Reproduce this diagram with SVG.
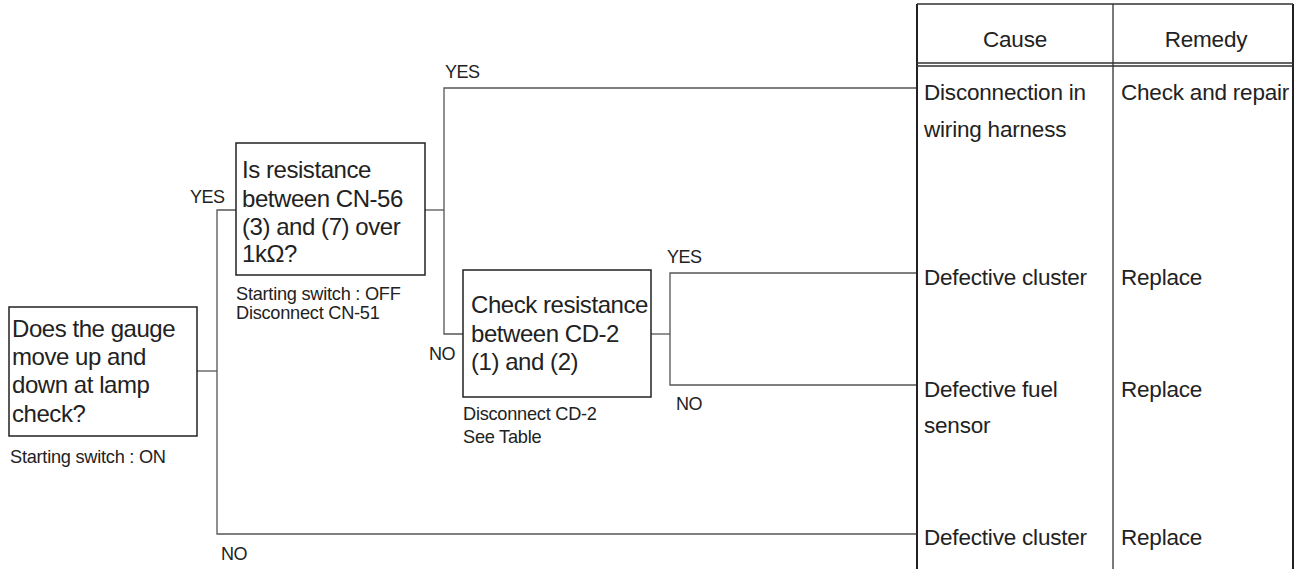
<svg xmlns="http://www.w3.org/2000/svg" width="1306" height="569" viewBox="0 0 1306 569">
<style>
.box{fill:#fff;stroke:#222;stroke-width:1.5}
.ln{fill:none;stroke:#555;stroke-width:1.3}
.tb{fill:none;stroke:#333;stroke-width:1.3}
.tbb{fill:none;stroke:#222;stroke-width:2}
.big{font-family:"Liberation Sans",Arial,sans-serif;font-size:24px;fill:#222;letter-spacing:-0.45px}
.tt{font-family:"Liberation Sans",Arial,sans-serif;font-size:22.5px;fill:#222;letter-spacing:-0.2px}
.sm{font-family:"Liberation Sans",Arial,sans-serif;font-size:18.2px;fill:#222;letter-spacing:-0.25px}
.lb{font-family:"Liberation Sans",Arial,sans-serif;font-size:18px;fill:#222;letter-spacing:-0.5px}
</style>
<rect width="1306" height="569" fill="#fff"/>
<g id="connectors">
<path class="ln" d="M197,371 H217"/>
<path class="ln" d="M236,210 H217 V534 H917"/>
<path class="ln" d="M425,210 H444"/>
<path class="ln" d="M917,88 H444 V334 H463"/>
<path class="ln" d="M651,334 H670"/>
<path class="ln" d="M917,273 H670 V385 H917"/>
<text class="lb" x="190" y="203">YES</text>
<text class="lb" x="221" y="560">NO</text>
<text class="lb" x="445" y="78">YES</text>
<text class="lb" x="429" y="360">NO</text>
<text class="lb" x="667" y="263">YES</text>
<text class="lb" x="676" y="410">NO</text>
</g>
<g id="node-gauge">
<rect class="box" x="9" y="307" width="188" height="129"/>
<text class="big" x="12" y="337">Does the gauge</text>
<text class="big" x="12" y="365">move up and</text>
<text class="big" x="12" y="393">down at lamp</text>
<text class="big" x="12" y="422">check?</text>
<text class="sm" x="10" y="463">Starting switch : ON</text>
</g>
<g id="node-resistance-cn56">
<rect class="box" x="236" y="143" width="189" height="132"/>
<text class="big" x="242" y="178">Is resistance</text>
<text class="big" x="242" y="207">between CN-56</text>
<text class="big" x="242" y="235">(3) and (7) over</text>
<text class="big" x="242" y="262">1kΩ?</text>
<text class="sm" x="236" y="300">Starting switch : OFF</text>
<text class="sm" x="236" y="319">Disconnect CN-51</text>
</g>
<g id="node-resistance-cd2">
<rect class="box" x="463" y="270" width="188" height="127"/>
<text class="big" x="471" y="313">Check resistance</text>
<text class="big" x="471" y="342">between CD-2</text>
<text class="big" x="471" y="370">(1) and (2)</text>
<text class="sm" x="463" y="420">Disconnect CD-2</text>
<text class="sm" x="463" y="443">See Table</text>
</g>
<g id="table">
<path class="tbb" d="M917,4 V569 M1293,4 V569"/>
<path class="tb" d="M917,4 H1293 M917,63 H1293 M917,66 H1293 M1113,4 V569"/>
<text class="tt" x="1015" y="47" text-anchor="middle">Cause</text>
<text class="tt" x="1206" y="47" text-anchor="middle">Remedy</text>
</g>
<g id="row-1">
<text class="tt" x="924" y="100">Disconnection in</text>
<text class="tt" x="924" y="137">wiring harness</text>
<text class="tt" x="1121" y="100">Check and repair</text>
</g>
<g id="row-2">
<text class="tt" x="924" y="285">Defective cluster</text>
<text class="tt" x="1121" y="285">Replace</text>
</g>
<g id="row-3">
<text class="tt" x="924" y="397">Defective fuel</text>
<text class="tt" x="924" y="433">sensor</text>
<text class="tt" x="1121" y="397">Replace</text>
</g>
<g id="row-4">
<text class="tt" x="924" y="545">Defective cluster</text>
<text class="tt" x="1121" y="545">Replace</text>
</g>
</svg>
